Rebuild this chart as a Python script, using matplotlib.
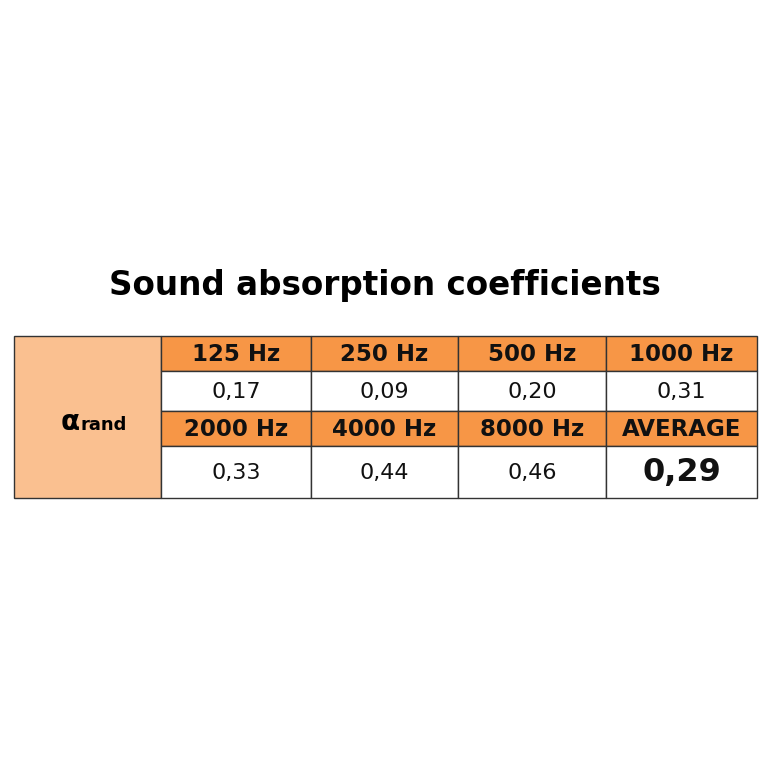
import matplotlib.pyplot as plt
from matplotlib.patches import Rectangle

title = "Sound absorption coefficients"
freqs_top = ["125 Hz", "250 Hz", "500 Hz", "1000 Hz"]
vals_top = ["0,17", "0,09", "0,20", "0,31"]
freqs_bot = ["2000 Hz", "4000 Hz", "8000 Hz", "AVERAGE"]
vals_bot = ["0,33", "0,44", "0,46", "0,29"]

ORANGE = "#F79646"
PEACH = "#FAC090"

fig = plt.figure(figsize=(7.68, 7.68), dpi=100)
ax = fig.add_axes([0, 0, 1, 1])
ax.set_xlim(0, 768)
ax.set_ylim(768, 0)
ax.axis("off")

ax.text(385, 285, title, ha="center", va="center", fontsize=23.5, fontweight="bold")

cols = [161, 311, 458, 606, 757]
rows = [336, 371, 411, 446, 498]
kw = dict(edgecolor="#333333", linewidth=1)
ax.add_patch(Rectangle((14, rows[0]), cols[0] - 14, rows[-1] - rows[0], facecolor=PEACH, **kw))
ax.text(80, 422, r"$\mathbf{\alpha}$", ha="right", va="center", fontsize=20)
ax.text(81, 425, "rand", ha="left", va="center", fontsize=13, fontweight="bold")

for r, (labels, color, bold) in enumerate([(freqs_top, ORANGE, True), (vals_top, "white", False),
                                           (freqs_bot, ORANGE, True), (vals_bot, "white", False)]):
    y0, y1 = rows[r], rows[r + 1]
    for c, lab in enumerate(labels):
        x0, x1 = cols[c], cols[c + 1]
        ax.add_patch(Rectangle((x0, y0), x1 - x0, y1 - y0, facecolor=color, **kw))
        big = r == 3 and c == 3
        ax.text((x0 + x1) / 2, (y0 + y1) / 2 + 1, lab, ha="center", va="center",
                fontsize=23 if big else (16.5 if bold else 16),
                fontweight="bold" if (bold or big) else "normal", color="#111111")

fig.savefig("out.png", dpi=100)
